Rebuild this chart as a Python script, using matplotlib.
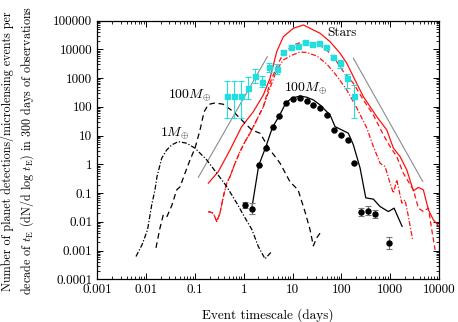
import numpy as np
import matplotlib
matplotlib.use("Agg")
import matplotlib.pyplot as plt

plt.rcParams['font.family'] = 'serif'
plt.rcParams['font.serif'] = ['cmr10']
plt.rcParams['mathtext.fontset'] = 'cm'
plt.rcParams['axes.unicode_minus'] = False
plt.rcParams['axes.formatter.use_mathtext'] = True

# ---- data (log10 of timescale in days, log10 of events per decade) ----
# observed events (cyan squares)
obs_logt = [-0.336, -0.193, -0.049, 0.094, 0.238, 0.381, 0.525, 0.672, 0.811, 0.963,
            1.107, 1.250, 1.393, 1.537, 1.682, 1.826, 1.969, 2.117, 2.260]
obs_logn = [2.38, 2.38, 2.38, 2.667, 3.06, 2.88, 3.385, 3.33, 3.917, 4.07,
            4.125, 4.26, 4.20, 4.22, 4.09, 3.743, 3.531, 2.986, 2.372]
obs_hi = [2.90, 2.90, 2.90, 3.04, 3.32, 3.07, 3.51, 3.48, 3.99, 4.13,
          4.17, 4.30, 4.24, 4.26, 4.14, 3.80, 3.63, 3.13, 2.76]
obs_lo = [1.625, 1.625, 1.625, 2.27, 2.82, 2.68, 3.22, 3.14, 3.84, 4.01,
          4.08, 4.22, 4.16, 4.18, 4.03, 3.68, 3.36, 2.67, 1.60]

# simulated planet detections, 100 Earth masses (black dots)
pl_logt = [0.027, 0.166, 0.307, 0.447, 0.592, 0.730, 0.867, 1.004, 1.148, 1.291,
           1.426, 1.570, 1.707, 1.850, 1.988, 2.127, 2.266, 2.404, 2.547, 2.691, 2.971]
pl_logn = [-1.424, -1.535, -0.035, 0.583, 1.292, 1.694, 2.146, 2.285, 2.319, 2.215,
           2.056, 1.972, 1.719, 1.181, 1.017, 0.851, 0.042, -1.649, -1.608, -1.729, -2.736]
pl_err = [0.10, 0.18, 0, 0, 0, 0, 0, 0, 0, 0,
          0, 0, 0, 0, 0, 0, 0, 0.15, 0.15, 0.13, 0.2]

# model, 100 Earth masses (black solid)
m100_logt = [0.164, 0.307, 0.447, 0.590, 0.730, 0.867, 0.984, 1.154, 1.291, 1.426,
             1.564, 1.666, 1.769, 1.871, 2.008, 2.143, 2.246, 2.383, 2.500, 2.656,
             2.793, 2.963, 3.080, 3.244]
m100_logn = [-1.545, -0.035, 0.583, 1.292, 1.694, 2.146, 2.299, 2.378, 2.333, 2.240,
             2.066, 1.892, 1.719, 1.313, 1.198, 1.083, 0.677, -0.122, -1.163, -1.208,
             -1.465, -1.639, -1.521, -2.153]

# stars, all events (red solid)
stars_logt = [-0.725, -0.520, -0.281, -0.045, 0.197, 0.402, 0.539, 0.676, 0.811, 1.016,
              1.221, 1.359, 1.564, 1.769, 1.974, 2.111, 2.246, 2.451, 2.725, 2.930,
              3.066, 3.203, 3.340, 3.475, 3.578, 3.680, 3.783, 3.885, 4.002]
stars_logn = [-0.653, -0.250, 0.503, 1.302, 1.833, 2.413, 2.993, 3.917, 4.438, 4.729,
              4.844, 4.729, 4.556, 4.264, 3.861, 3.514, 3.049, 2.354, 1.660, 1.198,
              0.563, 0.271, -0.191, -0.920, -0.799, -0.885, -1.580, -1.927, -2.153]

# stars, detectable events (red dashed)
det_logt = [-0.727, -0.623, -0.553, -0.486, -0.418, -0.348, -0.281, -0.178, -0.076, 0.027,
            0.129, 0.266, 0.402, 0.539, 0.676, 0.811, 1.016, 1.221, 1.496, 1.701,
            1.906, 2.041, 2.246, 2.451, 2.656, 2.861, 2.998, 3.135, 3.270, 3.373,
            3.475, 3.578, 3.680, 3.783, 3.852, 3.920]
det_logn = [-1.639, -1.694, -1.986, -1.694, -1.118, -0.653, -0.424, 0.042, 0.444, 0.792,
            1.083, 1.545, 2.007, 2.830, 3.396, 3.861, 4.149, 4.264, 4.208, 3.976,
            3.569, 3.222, 2.819, 2.240, 1.719, 1.024, 0.618, 0.271, -0.306, -0.597,
            -0.885, -1.521, -1.639, -1.521, -2.274, -2.969]

# stars, selected events (red dash-dot)
sel_logt = [-0.727, -0.623, -0.553, -0.486, -0.418, -0.348, -0.281, -0.178, -0.076, 0.027,
            0.129, 0.266, 0.402, 0.539, 0.676, 0.811, 0.949, 1.154, 1.291, 1.496,
            1.701, 1.906, 2.111, 2.316, 2.520, 2.656, 2.793, 2.896, 2.998, 3.066,
            3.135, 3.238, 3.305, 3.373, 3.463]
sel_logn = [-1.639, -1.694, -1.986, -1.694, -1.118, -0.653, -0.424, 0.042, 0.444, 0.792,
            1.083, 1.545, 2.007, 2.656, 3.281, 3.628, 3.767, 3.906, 3.889, 3.767,
            3.490, 3.073, 2.587, 1.962, 1.267, 0.618, 0.042, -0.076, -0.653, -1.0,
            -0.538, -1.347, -1.233, -1.812, -2.646]

# planet model, 100 Earth masses short timescale (black dashed)
p100_logt = [-1.797, -1.715, -1.648, -1.572, -1.469, -1.373, -1.305, -1.203, -1.100, -0.998,
             -0.895, -0.813, -0.725, -0.588, -0.418, -0.213, -0.008, 0.164, 0.334, 0.539,
             0.744, 0.949, 1.113, 1.256, 1.359, 1.426, 1.496, 1.564]
p100_logn = [-2.899, -2.205, -1.753, -1.813, -1.406, -0.885, -0.781, -0.306, 0.156, 0.563,
             1.198, 1.823, 2.083, 2.135, 2.090, 1.833, 1.486, 1.198, 1.083, 0.503,
             0.042, -0.608, -0.885, -1.649, -2.274, -2.830, -2.552, -2.389]

# planet model, 1 Earth mass (black dash-dot)
p1_logt = [-2.207, -2.084, -1.971, -1.885, -1.818, -1.777, -1.680, -1.578, -1.475, -1.340,
           -1.168, -0.998, -0.758, -0.553, -0.348, -0.143, 0.027, 0.170, 0.299, 0.436, 0.574]
p1_logn = [-3.201, -2.795, -2.274, -1.406, -0.885, -0.424, 0.215, 0.503, 0.677, 0.792,
           0.736, 0.563, 0.156, -0.306, -0.771, -1.347, -1.858, -2.274, -2.854, -3.281, -3.028]

# power-law guide lines (grey)
guide_left_logt = [-0.930, 0.484]
guide_left_logn = [-0.451, 3.743]
guide_right_logt = [2.246, 3.668]
guide_right_logn = [3.688, -0.597]

xticks = [0.001, 0.01, 0.1, 1, 10, 100, 1000, 10000]
xticklabels = ['0.001', '0.01', '0.1', '1', '10', '100', '1000', '10000']
yticks = [1e-4, 1e-3, 1e-2, 0.1, 1, 10, 100, 1000, 1e4, 1e5]
yticklabels = ['0.0001', '0.001', '0.01', '0.1', '1', '10', '100', '1000', '10000', '100000']


def lin(a):
    return 10 ** np.asarray(a, dtype=float)


fig = plt.figure(figsize=(4.58, 3.22), dpi=100)
ax = fig.add_axes([0.2124, 0.1320, 0.7461, 0.8043])

red = '#ff1010'
ax.plot(lin(guide_left_logt), lin(guide_left_logn), color='#8c8c8c', lw=0.8)
ax.plot(lin(guide_right_logt), lin(guide_right_logn), color='#8c8c8c', lw=0.8)

ax.plot(lin(stars_logt), lin(stars_logn), color=red, lw=0.9)
ax.plot(lin(det_logt), lin(det_logn), color=red, lw=0.9, dashes=(4, 2.5))
ax.plot(lin(sel_logt), lin(sel_logn), color=red, lw=0.9, dashes=(4, 1.5, 1, 1.5))

ax.plot(lin(p100_logt), lin(p100_logn), color='black', lw=0.9, dashes=(4.5, 3))
ax.plot(lin(p1_logt), lin(p1_logn), color='black', lw=0.9, dashes=(4, 1.5, 1, 1.5))
ax.plot(lin(m100_logt), lin(m100_logn), color='black', lw=0.9)

# cyan observed events
on = lin(obs_logn)
ax.errorbar(lin(obs_logt), on, yerr=[on - lin(obs_lo), lin(obs_hi) - on],
            fmt='s', color='#22dede', ms=3.6, ecolor='#22dede', elinewidth=0.8,
            capsize=2, capthick=0.8, zorder=4)

# black planet detections
pn = lin(pl_logn)
perr = np.asarray(pl_err)
ax.errorbar(lin(pl_logt), pn, yerr=[pn - pn / 10 ** perr, pn * 10 ** perr - pn],
            fmt='o', color='black', ms=3.6, ecolor='#777777', elinewidth=0.8,
            capsize=2, capthick=0.8, zorder=5)

ax.set_xscale('log')
ax.set_yscale('log')
ax.set_xlim(1e-3, 1e4)
ax.set_ylim(1e-4, 1e5)
ax.set_xticks(xticks)
ax.set_xticklabels(xticklabels)
ax.set_yticks(yticks)
ax.set_yticklabels(yticklabels)
ax.tick_params(which='both', direction='in', top=True, right=True, labelsize=9.5)
ax.tick_params(which='major', length=4, width=0.7)
ax.tick_params(which='minor', length=2, width=0.6)
for s in ax.spines.values():
    s.set_linewidth(0.9)

ax.text(lin(2.004), lin(4.566), 'Stars', fontsize=9.5, ha='center', va='center')
ax.text(lin(-1.111), lin(2.413), r'$100M_{\oplus}$', fontsize=10, ha='center', va='center')
ax.text(lin(-1.408), lin(1.083), r'$1M_{\oplus}$', fontsize=10, ha='center', va='center')
ax.text(lin(1.277), lin(2.646), r'$100M_{\oplus}$', fontsize=10, ha='center', va='center')

fig.text(7 / 458, 0.532, 'Number of planet detections/microlensing events per',
         rotation=90, ha='center', va='center', fontsize=8.7)
fig.text(27 / 458, 0.532,
         r'decade of $t_{\rm E}$ (dN/d log $t_{\rm E}$) in 300 days of observations',
         rotation=90, ha='center', va='center', fontsize=8.7)
fig.text(268 / 458, 1 - 315 / 322, 'Event timescale (days)',
         ha='center', va='center', fontsize=9.5)

fig.savefig('out.png', dpi=100)
